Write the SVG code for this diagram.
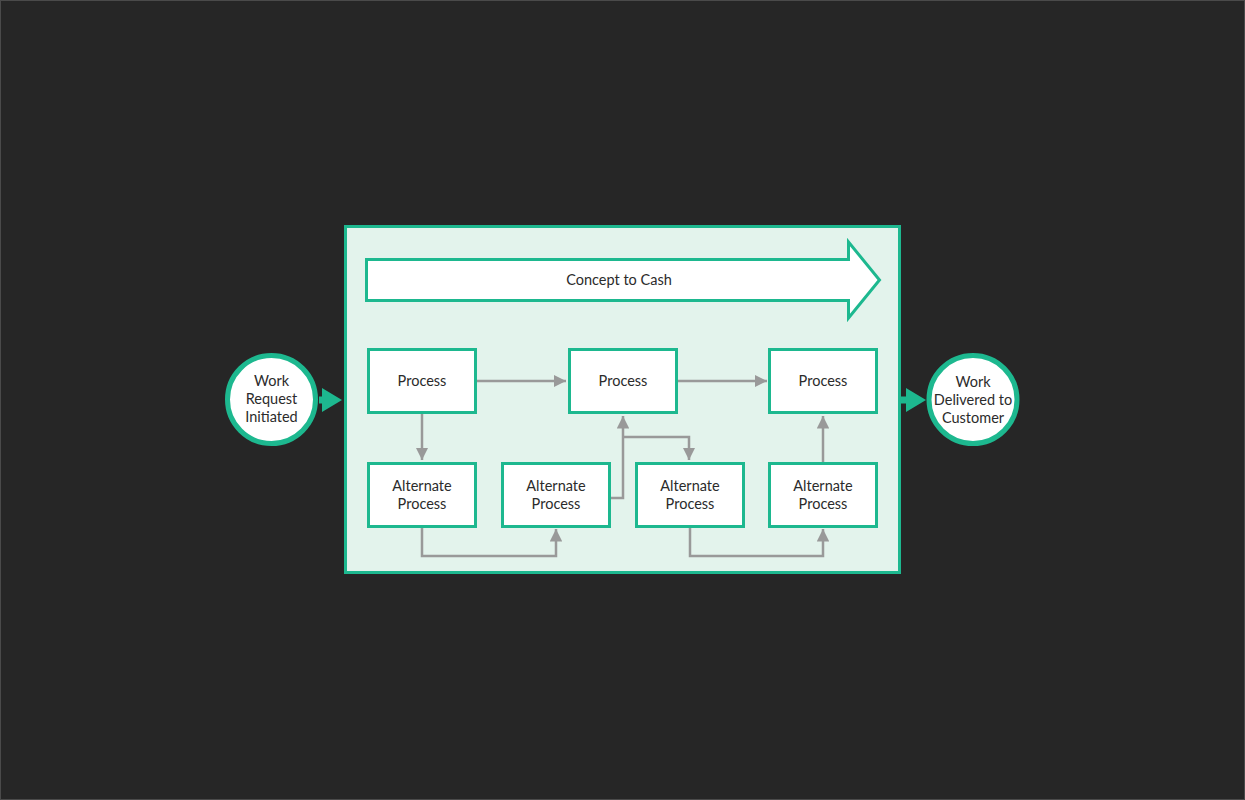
<svg xmlns="http://www.w3.org/2000/svg" width="1245" height="800" viewBox="0 0 1245 800">
<defs>
<style>
.bg{fill:#262626;}
.frame{fill:#e3f3ec;stroke:#1db88f;stroke-width:3;}
.box{fill:#ffffff;stroke:#1db88f;stroke-width:3;}
.circ{fill:#ffffff;stroke:#1db88f;stroke-width:5;}
.lbl{font-family:Lato,"Open Sans","Liberation Sans",sans-serif;font-size:14.5px;fill:#2b2b2b;text-anchor:middle;}
.conn{fill:none;stroke:#999999;stroke-width:2.5;}
.garrow{fill:#1db88f;}
</style>
<marker id="ah" viewBox="0 0 10 10" refX="10" refY="5" markerWidth="5" markerHeight="5" markerUnits="strokeWidth" orient="auto">
<path d="M0,0 L10,5 L0,10 Z" fill="#999999"/>
</marker>
<radialGradient id="vign" cx="50%" cy="50%" r="75%">
<stop offset="0" stop-color="#2c2c2c"/>
<stop offset="1" stop-color="#212121"/>
</radialGradient>
</defs>
<rect class="bg" x="0" y="0" width="1245" height="800" fill="url(#vign)"/>
<rect x="0.5" y="0.5" width="1244" height="799" fill="none" stroke="#4a4a4a" stroke-width="1"/>

<g id="container">
<rect class="frame" x="345.5" y="226.5" width="554" height="346"/>
</g>

<g id="concept-to-cash">
<path class="box" d="M366.5,259.5 L848.5,259.5 L848.5,242 L879.5,280 L848.5,318 L848.5,300.5 L366.5,300.5 Z"/>
<text class="lbl" x="619" y="285">Concept to Cash</text>
</g>

<g id="start">
<circle class="circ" cx="271.5" cy="399.5" r="44"/>
<text class="lbl" x="271.5" y="386">Work</text>
<text class="lbl" x="271.5" y="404">Request</text>
<text class="lbl" x="271.5" y="422">Initiated</text>
</g>

<g id="end">
<circle class="circ" cx="973" cy="399.5" r="44"/>
<text class="lbl" x="973" y="387">Work</text>
<text class="lbl" x="973" y="405">Delivered to</text>
<text class="lbl" x="973" y="423">Customer</text>
</g>

<g id="process1">
<rect class="box" x="368.5" y="349.5" width="107" height="63"/>
<text class="lbl" x="422" y="386">Process</text>
</g>
<g id="process2">
<rect class="box" x="569.5" y="349.5" width="107" height="63"/>
<text class="lbl" x="623" y="386">Process</text>
</g>
<g id="process3">
<rect class="box" x="769.5" y="349.5" width="107" height="63"/>
<text class="lbl" x="823" y="386">Process</text>
</g>

<g id="alt1">
<rect class="box" x="368.5" y="463.5" width="107" height="63"/>
<text class="lbl" x="422" y="491">Alternate</text>
<text class="lbl" x="422" y="509">Process</text>
</g>
<g id="alt2">
<rect class="box" x="502.5" y="463.5" width="107" height="63"/>
<text class="lbl" x="556" y="491">Alternate</text>
<text class="lbl" x="556" y="509">Process</text>
</g>
<g id="alt3">
<rect class="box" x="636.5" y="463.5" width="107" height="63"/>
<text class="lbl" x="690" y="491">Alternate</text>
<text class="lbl" x="690" y="509">Process</text>
</g>
<g id="alt4">
<rect class="box" x="769.5" y="463.5" width="107" height="63"/>
<text class="lbl" x="823" y="491">Alternate</text>
<text class="lbl" x="823" y="509">Process</text>
</g>

<g id="connectors">
<path class="conn" d="M477,381 L566,381" marker-end="url(#ah)"/>
<path class="conn" d="M678,381 L767,381" marker-end="url(#ah)"/>
<path class="conn" d="M422,414 L422,460" marker-end="url(#ah)"/>
<path class="conn" d="M422,528 L422,556 L556,556 L556,529" marker-end="url(#ah)"/>
<path class="conn" d="M611,498 L623,498 L623,416" marker-end="url(#ah)"/>
<path class="conn" d="M623,437 L689,437 L689,460" marker-end="url(#ah)"/>
<path class="conn" d="M690,528 L690,556 L823,556 L823,529" marker-end="url(#ah)"/>
<path class="conn" d="M823,462 L823,416" marker-end="url(#ah)"/>
<path class="garrow" d="M319,396.5 L322,396.5 L322,388 L342,400 L322,412 L322,403.5 L319,403.5 Z"/>
<path class="garrow" d="M900,396.5 L906,396.5 L906,388 L926,400 L906,412 L906,403.5 L900,403.5 Z"/>
</g>
</svg>
